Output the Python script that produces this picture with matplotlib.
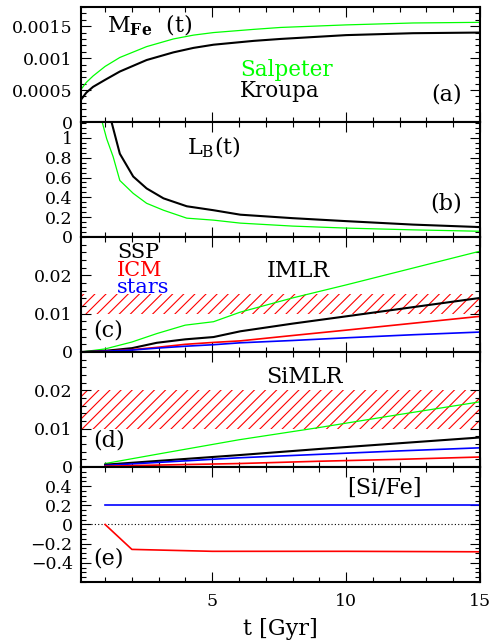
import numpy as np
import matplotlib
matplotlib.use("Agg")
import matplotlib.pyplot as plt
from matplotlib import ticker

plt.rcParams['font.family'] = ['DejaVu Serif']
plt.rcParams['mathtext.fontset'] = 'custom'
plt.rcParams['mathtext.rm'] = 'DejaVu Serif'
plt.rcParams['mathtext.bf'] = 'DejaVu Serif:bold'
plt.rcParams['hatch.linewidth'] = 0.8

# (a) iron mass vs time
t_mfe = [0.1, 0.3, 0.55, 1.0, 1.55, 2.55, 3.55, 4.3, 5.05, 6.55, 7.55, 10, 12.5, 15]
mfe_salp = [0.00051, 0.00062, 0.00072, 0.00087, 0.00101, 0.00118, 0.0013,
            0.00136, 0.0014, 0.00145, 0.00148, 0.00152, 0.00155, 0.00156]
mfe_krou = [0.00035, 0.00046, 0.00055, 0.00066, 0.00079, 0.00097, 0.00109,
            0.00116, 0.00121, 0.00127, 0.0013, 0.00136, 0.00139, 0.0014]

# (b) B luminosity
t_lb_k = [1.0, 1.24, 1.55, 2.05, 2.55, 3.18, 4.05, 5.05, 6.05, 8, 10, 12.5, 15]
lb_krou = [1.42, 1.16, 0.84, 0.61, 0.49, 0.39, 0.31, 0.27, 0.225, 0.19, 0.16, 0.125, 0.10]
t_lb_s = [0.8, 1.06, 1.3, 1.55, 2.05, 2.55, 3.18, 4.05, 5.05, 6.05, 8, 10, 12.5, 15]
lb_salp = [1.25, 0.99, 0.81, 0.57, 0.44, 0.34, 0.27, 0.19, 0.17, 0.14, 0.11, 0.09, 0.072, 0.058]

# (c) IMLR
t_c = [0.1, 1, 2, 2.93, 3.99, 5.05, 6.05, 8, 10, 12.5, 15]
imlr_salp = [0, 0.0008, 0.0026, 0.0048, 0.0070, 0.0079, 0.0104, 0.0141, 0.0175, 0.0219, 0.0263]
imlr_ssp = [0, 0.0003, 0.0010, 0.0024, 0.0033, 0.0039, 0.0054, 0.0074, 0.0093, 0.0117, 0.0141]
imlr_icm = [0, 0.0002, 0.0006, 0.0012, 0.0020, 0.0025, 0.0029, 0.0043, 0.0057, 0.0075, 0.0093]
imlr_stars = [0, 0.0002, 0.0005, 0.0010, 0.0015, 0.0019, 0.0024, 0.0030, 0.0037, 0.0045, 0.0052]
imlr_obs = (0.01, 0.015)

# (d) SiMLR
t_d = [1, 3, 6, 9, 12, 15]
simlr_salp = [0.0009, 0.0034, 0.0071, 0.0103, 0.0137, 0.017]
simlr_ssp = [0.0006, 0.0016, 0.0031, 0.0047, 0.0062, 0.0077]
simlr_stars = [0.0004, 0.0012, 0.0024, 0.0033, 0.0042, 0.0050]
simlr_icm = [0.0002, 0.0005, 0.0009, 0.0015, 0.0020, 0.0026]
simlr_obs = (0.01, 0.02)

# (e) [Si/Fe]
t_e = [1, 2, 5, 10, 15]
sife_icm = [0, -0.26, -0.28, -0.28, -0.285]
sife_stars = [0.2, 0.2, 0.2, 0.2, 0.2]

GREEN, RED, BLUE = '#00ff00', '#ff0000', '#0000ff'
TS = 16

fig, axs = plt.subplots(5, 1, figsize=(4.9, 6.43), dpi=100, sharex=True)
fig.subplots_adjust(left=0.1653, right=0.9796, top=0.9891, bottom=0.0949, hspace=0)


def fmt(v, pos):
    s = '%g' % v
    return s.replace('-', '\u2212')


for ax in axs:
    ax.set_xlim(0.1, 15)
    ax.xaxis.set_major_locator(ticker.MultipleLocator(5))
    ax.xaxis.set_minor_locator(ticker.MultipleLocator(1))
    ax.tick_params(which='both', direction='in', top=True, right=True, width=0.8,
                   labelsize=12.5)
    ax.tick_params(which='major', length=7)
    ax.tick_params(which='minor', length=3.5)
    ax.tick_params(axis='y', pad=6)
    ax.tick_params(axis='x', pad=8)
    for s in ax.spines.values():
        s.set_linewidth(1.5)
    ax.yaxis.set_major_formatter(ticker.FuncFormatter(fmt))

# (a)
ax = axs[0]
ax.plot(t_mfe, mfe_salp, color=GREEN, lw=0.9)
ax.plot(t_mfe, mfe_krou, color='k', lw=1.5)
ax.set_ylim(0, 0.0018)
ax.yaxis.set_major_locator(ticker.FixedLocator([0, 0.0005, 0.001, 0.0015]))
ax.yaxis.set_minor_locator(ticker.MultipleLocator(0.0001))
ax.text(0.065, 0.783, r'M$_{\mathbf{Fe}}$  (t)', transform=ax.transAxes, fontsize=TS, va='baseline')
ax.text(0.398, 0.40, 'Salpeter', color=GREEN, transform=ax.transAxes, fontsize=15.5, va='baseline')
ax.text(0.398, 0.215, 'Kroupa', color='k', transform=ax.transAxes, fontsize=15.5, va='baseline')
ax.text(0.954, 0.19, '(a)', transform=ax.transAxes, fontsize=TS, va='baseline', ha='right')

# (b)
ax = axs[1]
ax.plot(t_lb_s, lb_salp, color=GREEN, lw=0.9)
ax.plot(t_lb_k, lb_krou, color='k', lw=1.5)
ax.set_ylim(0, 1.16)
ax.yaxis.set_major_locator(ticker.FixedLocator([0, 0.2, 0.4, 0.6, 0.8, 1.0]))
ax.yaxis.set_minor_locator(ticker.MultipleLocator(0.05))
ax.text(0.265, 0.72, r'L$_{\rm B}$(t)', transform=ax.transAxes, fontsize=TS, va='baseline')
ax.text(0.954, 0.235, '(b)', transform=ax.transAxes, fontsize=TS, va='baseline', ha='right')

# (c)
ax = axs[2]
ax.axhspan(*imlr_obs, facecolor='none', edgecolor=RED, hatch='///', lw=0)
ax.plot(t_c, imlr_salp, color=GREEN, lw=0.9)
ax.plot(t_c, imlr_ssp, color='k', lw=1.5)
ax.plot(t_c, imlr_icm, color=RED, lw=1.2)
ax.plot(t_c, imlr_stars, color=BLUE, lw=1.2)
ax.set_ylim(0, 0.03)
ax.yaxis.set_major_locator(ticker.FixedLocator([0, 0.01, 0.02]))
ax.yaxis.set_minor_locator(ticker.MultipleLocator(0.002))
ax.text(0.091, 0.815, 'SSP', color='k', transform=ax.transAxes, fontsize=15, va='baseline')
ax.text(0.091, 0.66, 'ICM', color=RED, transform=ax.transAxes, fontsize=15, va='baseline')
ax.text(0.091, 0.51, 'stars', color=BLUE, transform=ax.transAxes, fontsize=15, va='baseline')
ax.text(0.465, 0.655, 'IMLR', transform=ax.transAxes, fontsize=TS, va='baseline')
ax.text(0.031, 0.133, '(c)', transform=ax.transAxes, fontsize=TS, va='baseline')

# (d)
ax = axs[3]
ax.axhspan(*simlr_obs, facecolor='none', edgecolor=RED, hatch='///', lw=0)
ax.plot(t_d, simlr_salp, color=GREEN, lw=0.9)
ax.plot(t_d, simlr_ssp, color='k', lw=1.5)
ax.plot(t_d, simlr_stars, color=BLUE, lw=1.2)
ax.plot(t_d, simlr_icm, color=RED, lw=1.2)
ax.set_ylim(0, 0.03)
ax.yaxis.set_major_locator(ticker.FixedLocator([0, 0.01, 0.02]))
ax.yaxis.set_minor_locator(ticker.MultipleLocator(0.002))
ax.text(0.465, 0.728, 'SiMLR', transform=ax.transAxes, fontsize=TS, va='baseline')
ax.text(0.031, 0.177, '(d)', transform=ax.transAxes, fontsize=TS, va='baseline')

# (e)
ax = axs[4]
ax.axhline(0, color='k', lw=0.8, ls=(0, (1, 2)))
ax.plot(t_e, sife_stars, color=BLUE, lw=1.2)
ax.plot(t_e, sife_icm, color=RED, lw=1.2)
ax.set_ylim(-0.6, 0.6)
ax.yaxis.set_major_locator(ticker.FixedLocator([-0.4, -0.2, 0, 0.2, 0.4]))
ax.yaxis.set_minor_locator(ticker.MultipleLocator(0.05))
ax.text(0.667, 0.765, '[Si/Fe]', transform=ax.transAxes, fontsize=TS, va='baseline')
ax.text(0.031, 0.148, '(e)', transform=ax.transAxes, fontsize=TS, va='baseline')
ax.set_xlabel('t [Gyr]', fontsize=TS, labelpad=6)

fig.savefig('out.png', dpi=100)
